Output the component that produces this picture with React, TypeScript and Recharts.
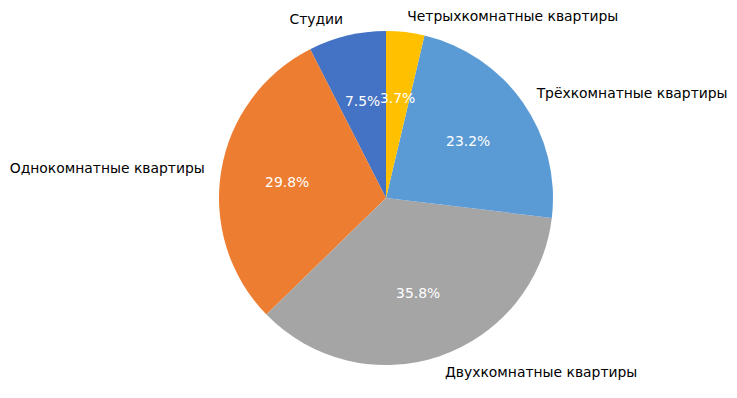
import { PieChart, Pie, Cell } from 'recharts';

const names = [
  'Студии',
  'Однокомнатные квартиры',
  'Двухкомнатные квартиры',
  'Трёхкомнатные квартиры',
  'Четрыхкомнатные квартиры',
];
const shares = [7.5, 29.8, 35.8, 23.2, 3.7];
const colors = ['#4472C4', '#ED7D31', '#A5A5A5', '#5B9BD5', '#FFC000'];

const data = names.map((name, i) => ({ name, value: shares[i] }));

const RAD = Math.PI / 180;
const FONT = '"DejaVu Sans", sans-serif';
const FS = 13.9;

// matplotlib-style labels: name at 1.1r, percent at 0.6r
const renderLabel = ({ cx, cy, midAngle, outerRadius, name, percent }: any) => {
  const c = Math.cos(-midAngle * RAD);
  const s = Math.sin(-midAngle * RAD);
  const nx = cx + outerRadius * 1.1 * c;
  const ny = cy + outerRadius * 1.1 * s;
  const px = cx + outerRadius * 0.6 * c;
  const py = cy + outerRadius * 0.6 * s;
  return (
    <g>
      <text
        x={nx}
        y={ny}
        textAnchor={c > 0 ? 'start' : 'end'}
        dominantBaseline="central"
        fill="#000"
        fontSize={FS}
        fontFamily={FONT}
      >
        {name}
      </text>
      <text
        x={px}
        y={py}
        textAnchor="middle"
        dominantBaseline="central"
        fill="#fff"
        fontSize={FS}
        fontFamily={FONT}
      >
        {(percent * 100).toFixed(1)}%
      </text>
    </g>
  );
};

export default function App() {
  return (
    <div style={{ position: 'absolute', left: 0, top: 0, background: '#fff' }}>
      <PieChart width={737} height={398} margin={{ top: 0, right: 0, bottom: 0, left: 0 }}>
        <Pie
          data={data}
          dataKey="value"
          nameKey="name"
          cx={386}
          cy={198}
          outerRadius={167}
          startAngle={90}
          endAngle={450}
          stroke="none"
          label={renderLabel}
          labelLine={false}
          isAnimationActive={false}
        >
          {data.map((d, i) => (
            <Cell key={d.name} fill={colors[i]} />
          ))}
        </Pie>
      </PieChart>
    </div>
  );
}
